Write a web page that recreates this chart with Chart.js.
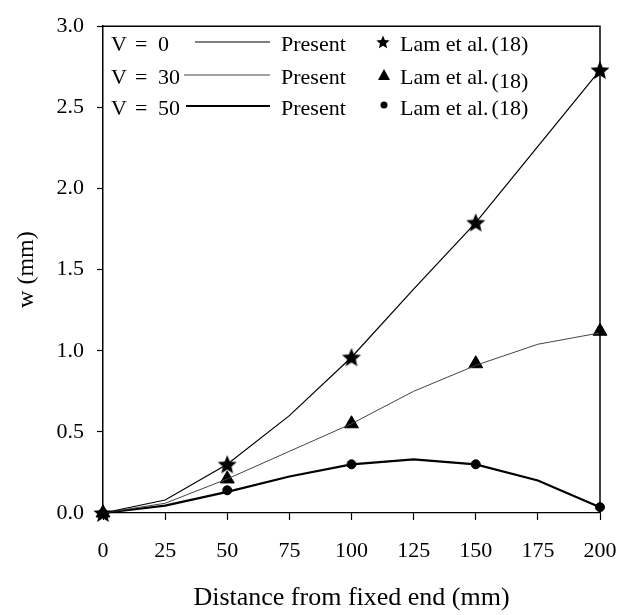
<!DOCTYPE html>
<html>
<head>
<meta charset="utf-8">
<script src="https://cdn.jsdelivr.net/npm/chart.js@4/dist/chart.umd.min.js"></script>
<style>
html,body{margin:0;padding:0;background:#fff;}
#wrap{position:relative;width:626px;height:615px;}
</style>
</head>
<body>
<div id="wrap"><canvas id="c" width="626" height="615"></canvas></div>
<script>
// ---- data ----
const distance = [0, 25, 50, 75, 100, 125, 150, 175, 200];
const presentV0  = [0, 0.08, 0.30, 0.60, 0.96, 1.38, 1.79, 2.26, 2.73];
const presentV30 = [0, 0.06, 0.21, 0.38, 0.55, 0.75, 0.91, 1.04, 1.11];
const presentV50 = [0, 0.045, 0.13, 0.225, 0.30, 0.33, 0.30, 0.20, 0.035];
const lamDistance = [0, 50, 100, 150, 200];
const lamV0  = [0, 0.30, 0.96, 1.79, 2.73];
const lamV30 = [0, 0.21, 0.55, 0.92, 1.12];
const lamV50 = [0, 0.14, 0.30, 0.30, 0.036];
const xTicks = [0, 25, 50, 75, 100, 125, 150, 175, 200];
const yTicks = [0.0, 0.5, 1.0, 1.5, 2.0, 2.5, 3.0];
const legendV = ['0', '30', '50'];
const legendRef = 'Lam et al.';
const legendNum = '(18)';
const presentLabel = 'Present';
const xTitle = 'Distance from fixed end (mm)';
const yTitle = 'w (mm)';

const FONT = '"Liberation Serif", "Times New Roman", serif';

function starImage(r) {
  const s = Math.ceil(r * 2 + 2);
  const cv = document.createElement('canvas');
  cv.width = s; cv.height = s;
  const g = cv.getContext('2d');
  g.fillStyle = '#000';
  g.beginPath();
  const cx = s / 2, cy = s / 2 + r * 0.08;
  for (let i = 0; i < 10; i++) {
    const rr = i % 2 === 0 ? r : r * 0.45;
    const a = -Math.PI / 2 + i * Math.PI / 5;
    const px = cx + rr * Math.cos(a), py = cy + rr * Math.sin(a);
    if (i === 0) g.moveTo(px, py); else g.lineTo(px, py);
  }
  g.closePath();
  g.fill();
  return cv;
}
const bigStar = starImage(10);
const smallStar = starImage(7);

const pts = (xs, ys) => xs.map((x, i) => ({x: x, y: ys[i]}));

const framePlugin = {
  id: 'frame',
  afterDraw(chart) {
    const {ctx, chartArea: a} = chart;
    ctx.save();
    ctx.strokeStyle = '#000';
    ctx.lineWidth = 1.5;
    ctx.beginPath();
    ctx.moveTo(a.left, a.top); ctx.lineTo(a.right, a.top); ctx.lineTo(a.right, a.bottom);
    ctx.stroke();
    // legend
    ctx.fillStyle = '#000';
    ctx.font = '22px ' + FONT;
    ctx.textBaseline = 'middle';
    ctx.textAlign = 'left';
    const rowsY = [45, 78, 109];
    const lineY = [42, 75, 106];
    const lineX0 = [195, 184, 186];
    const lineW = [1.2, 1, 2];
    const lineC = ['#000', '#444', '#000'];
    legendV.forEach((v, i) => {
      const y = rowsY[i];
      ctx.fillText('V', 111, y);
      ctx.fillText('=', 135, y);
      ctx.fillText(v, 158, y);
      ctx.save();
      ctx.strokeStyle = lineC[i]; ctx.lineWidth = lineW[i];
      ctx.beginPath(); ctx.moveTo(lineX0[i], lineY[i]); ctx.lineTo(270, lineY[i]); ctx.stroke();
      ctx.restore();
      ctx.fillText(presentLabel, 281, y);
      ctx.fillText(legendRef, 400, y);
      const w = ctx.measureText(legendRef).width;
      ctx.fillText(legendNum, 400 + w + 3, y + (i === 1 ? 4 : 0));
    });
    // legend markers
    ctx.drawImage(smallStar, 383 - smallStar.width / 2, 42 - smallStar.height / 2);
    ctx.beginPath();
    ctx.moveTo(384, 69); ctx.lineTo(390, 80); ctx.lineTo(378, 80); ctx.closePath(); ctx.fill();
    ctx.beginPath(); ctx.arc(384, 105, 3.5, 0, Math.PI * 2); ctx.fill();
    ctx.restore();
  }
};

new Chart(document.getElementById('c'), {
  type: 'line',
  data: {
    datasets: [
      {data: pts(distance, presentV0), borderColor: '#000', borderWidth: 1.2, pointRadius: 0, tension: 0, fill: false, clip: false},
      {data: pts(distance, presentV30), borderColor: '#444', borderWidth: 1, pointRadius: 0, tension: 0, fill: false, clip: false},
      {data: pts(distance, presentV50), borderColor: '#000', borderWidth: 2.2, pointRadius: 0, tension: 0, fill: false, clip: false},
      {data: pts(lamDistance, lamV0), showLine: false, pointStyle: bigStar, pointRadius: 10, backgroundColor: '#000', borderColor: '#000', clip: false},
      {data: pts(lamDistance, lamV30), showLine: false, pointStyle: 'triangle', pointRadius: 8, backgroundColor: '#000', borderColor: '#000', borderWidth: 1, clip: false},
      {data: pts(lamDistance, lamV50), showLine: false, pointStyle: 'circle', pointRadius: 4.5, backgroundColor: '#000', borderColor: '#000', borderWidth: 1, clip: false}
    ]
  },
  options: {
    responsive: false,
    animation: false,
    events: [],
    layout: {padding: {left: 0, right: 26, top: 19, bottom: 0}},
    plugins: {legend: {display: false}, tooltip: {enabled: false}},
    scales: {
      x: {
        type: 'linear', min: 0, max: 200,
        afterBuildTicks: (s) => { s.ticks = xTicks.map(v => ({value: v})); },
        afterFit: (s) => { s.height = 102; s.paddingRight = 0; s.paddingLeft = 0; },
        grid: {display: true, drawOnChartArea: false, drawTicks: true, tickLength: 7, color: '#000', tickWidth: 1.2},
        border: {display: true, color: '#000', width: 1.2},
        ticks: {color: '#000', padding: 18, maxRotation: 0, font: {family: FONT, size: 22}},
        title: {display: true, text: xTitle, color: '#000', font: {family: FONT, size: 26}, padding: {top: 0, bottom: 1}}
      },
      y: {
        type: 'linear', min: 0, max: 3,
        afterBuildTicks: (s) => { s.ticks = yTicks.map(v => ({value: v})); },
        afterFit: (s) => { s.width = 103; },
        grid: {display: true, drawOnChartArea: false, drawTicks: true, tickLength: 6, color: '#000', tickWidth: 1.2},
        border: {display: true, color: '#000', width: 1.5},
        ticks: {color: '#000', padding: 13, font: {family: FONT, size: 22}, callback: (v) => Number(v).toFixed(1)},
        title: {display: true, text: yTitle, color: '#000', font: {family: FONT, size: 24}, padding: {top: 12, bottom: 0}}
      }
    }
  },
  plugins: [framePlugin]
});
</script>
</body>
</html>
